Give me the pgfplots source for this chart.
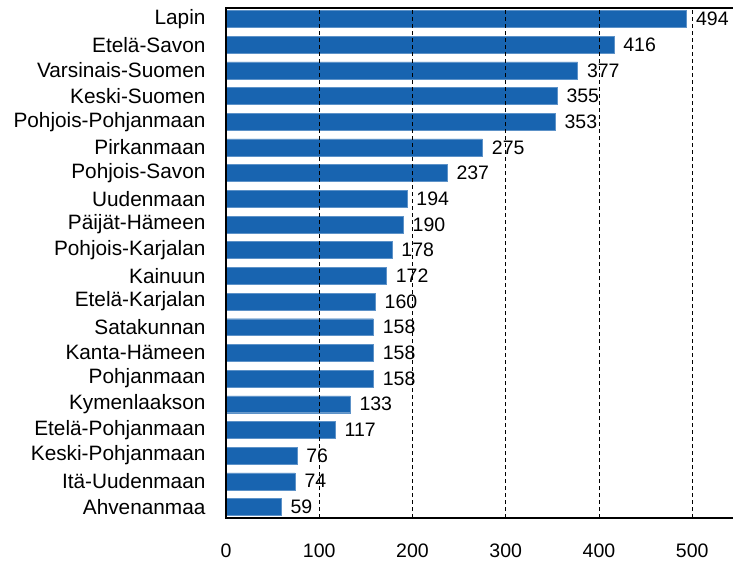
\documentclass[border=0pt]{standalone}
\usepackage{pgfplots}
\pgfplotsset{compat=1.18}
\usepackage{fontspec}
\setmainfont{Liberation Sans}
\definecolor{barblue}{RGB}{24,100,176}
\begin{document}
\begin{tikzpicture}
\begin{axis}[
  scale only axis,
  width=510pt, height=510pt,
  xbar, bar width=0.66,
  xmin=0, xmax=547,
  ymin=-0.43, ymax=19.43,
  ytick={0,...,19},
  yticklabels={Ahvenanmaa,Itä-Uudenmaan,Keski-Pohjanmaan,Etelä-Pohjanmaan,Kymenlaakson,Pohjanmaan,Kanta-Hämeen,Satakunnan,Etelä-Karjalan,Kainuun,Pohjois-Karjalan,Päijät-Hämeen,Uudenmaan,Pohjois-Savon,Pirkanmaan,Pohjois-Pohjanmaan,Keski-Suomen,Varsinais-Suomen,Etelä-Savon,Lapin},
  xtick={0,100,200,300,400,500},
  major tick length=0pt,
  xmajorgrids,
  major grid style={black, dash pattern=on 4pt off 3pt, line width=0.7pt},
  axis line style={black, line width=1.2pt},
  axis on top,
  /pgf/number format/assume math mode=true,
  xticklabel style={font=\fontsize{19.5}{22}\selectfont, yshift=-22pt},
  yticklabel style={font=\fontsize{20.8}{24}\selectfont, xshift=-17pt},
  nodes near coords,
  every node near coord/.append style={font=\fontsize{19.5}{22}\selectfont, xshift=6pt, /pgf/number format/assume math mode=true},
  clip=false,
]
\addplot[fill=barblue, draw=barblue!70!white, line width=0.4pt] coordinates {
(59,0) (74,1) (76,2) (117,3) (133,4) (158,5) (158,6) (158,7) (160,8) (172,9)
(178,10) (190,11) (194,12) (237,13) (275,14) (353,15) (355,16) (377,17) (416,18) (494,19)
};
\end{axis}
\pgfresetboundingbox
\useasboundingbox (-226pt,-48pt) rectangle (507pt,518pt);
\end{tikzpicture}
\end{document}
